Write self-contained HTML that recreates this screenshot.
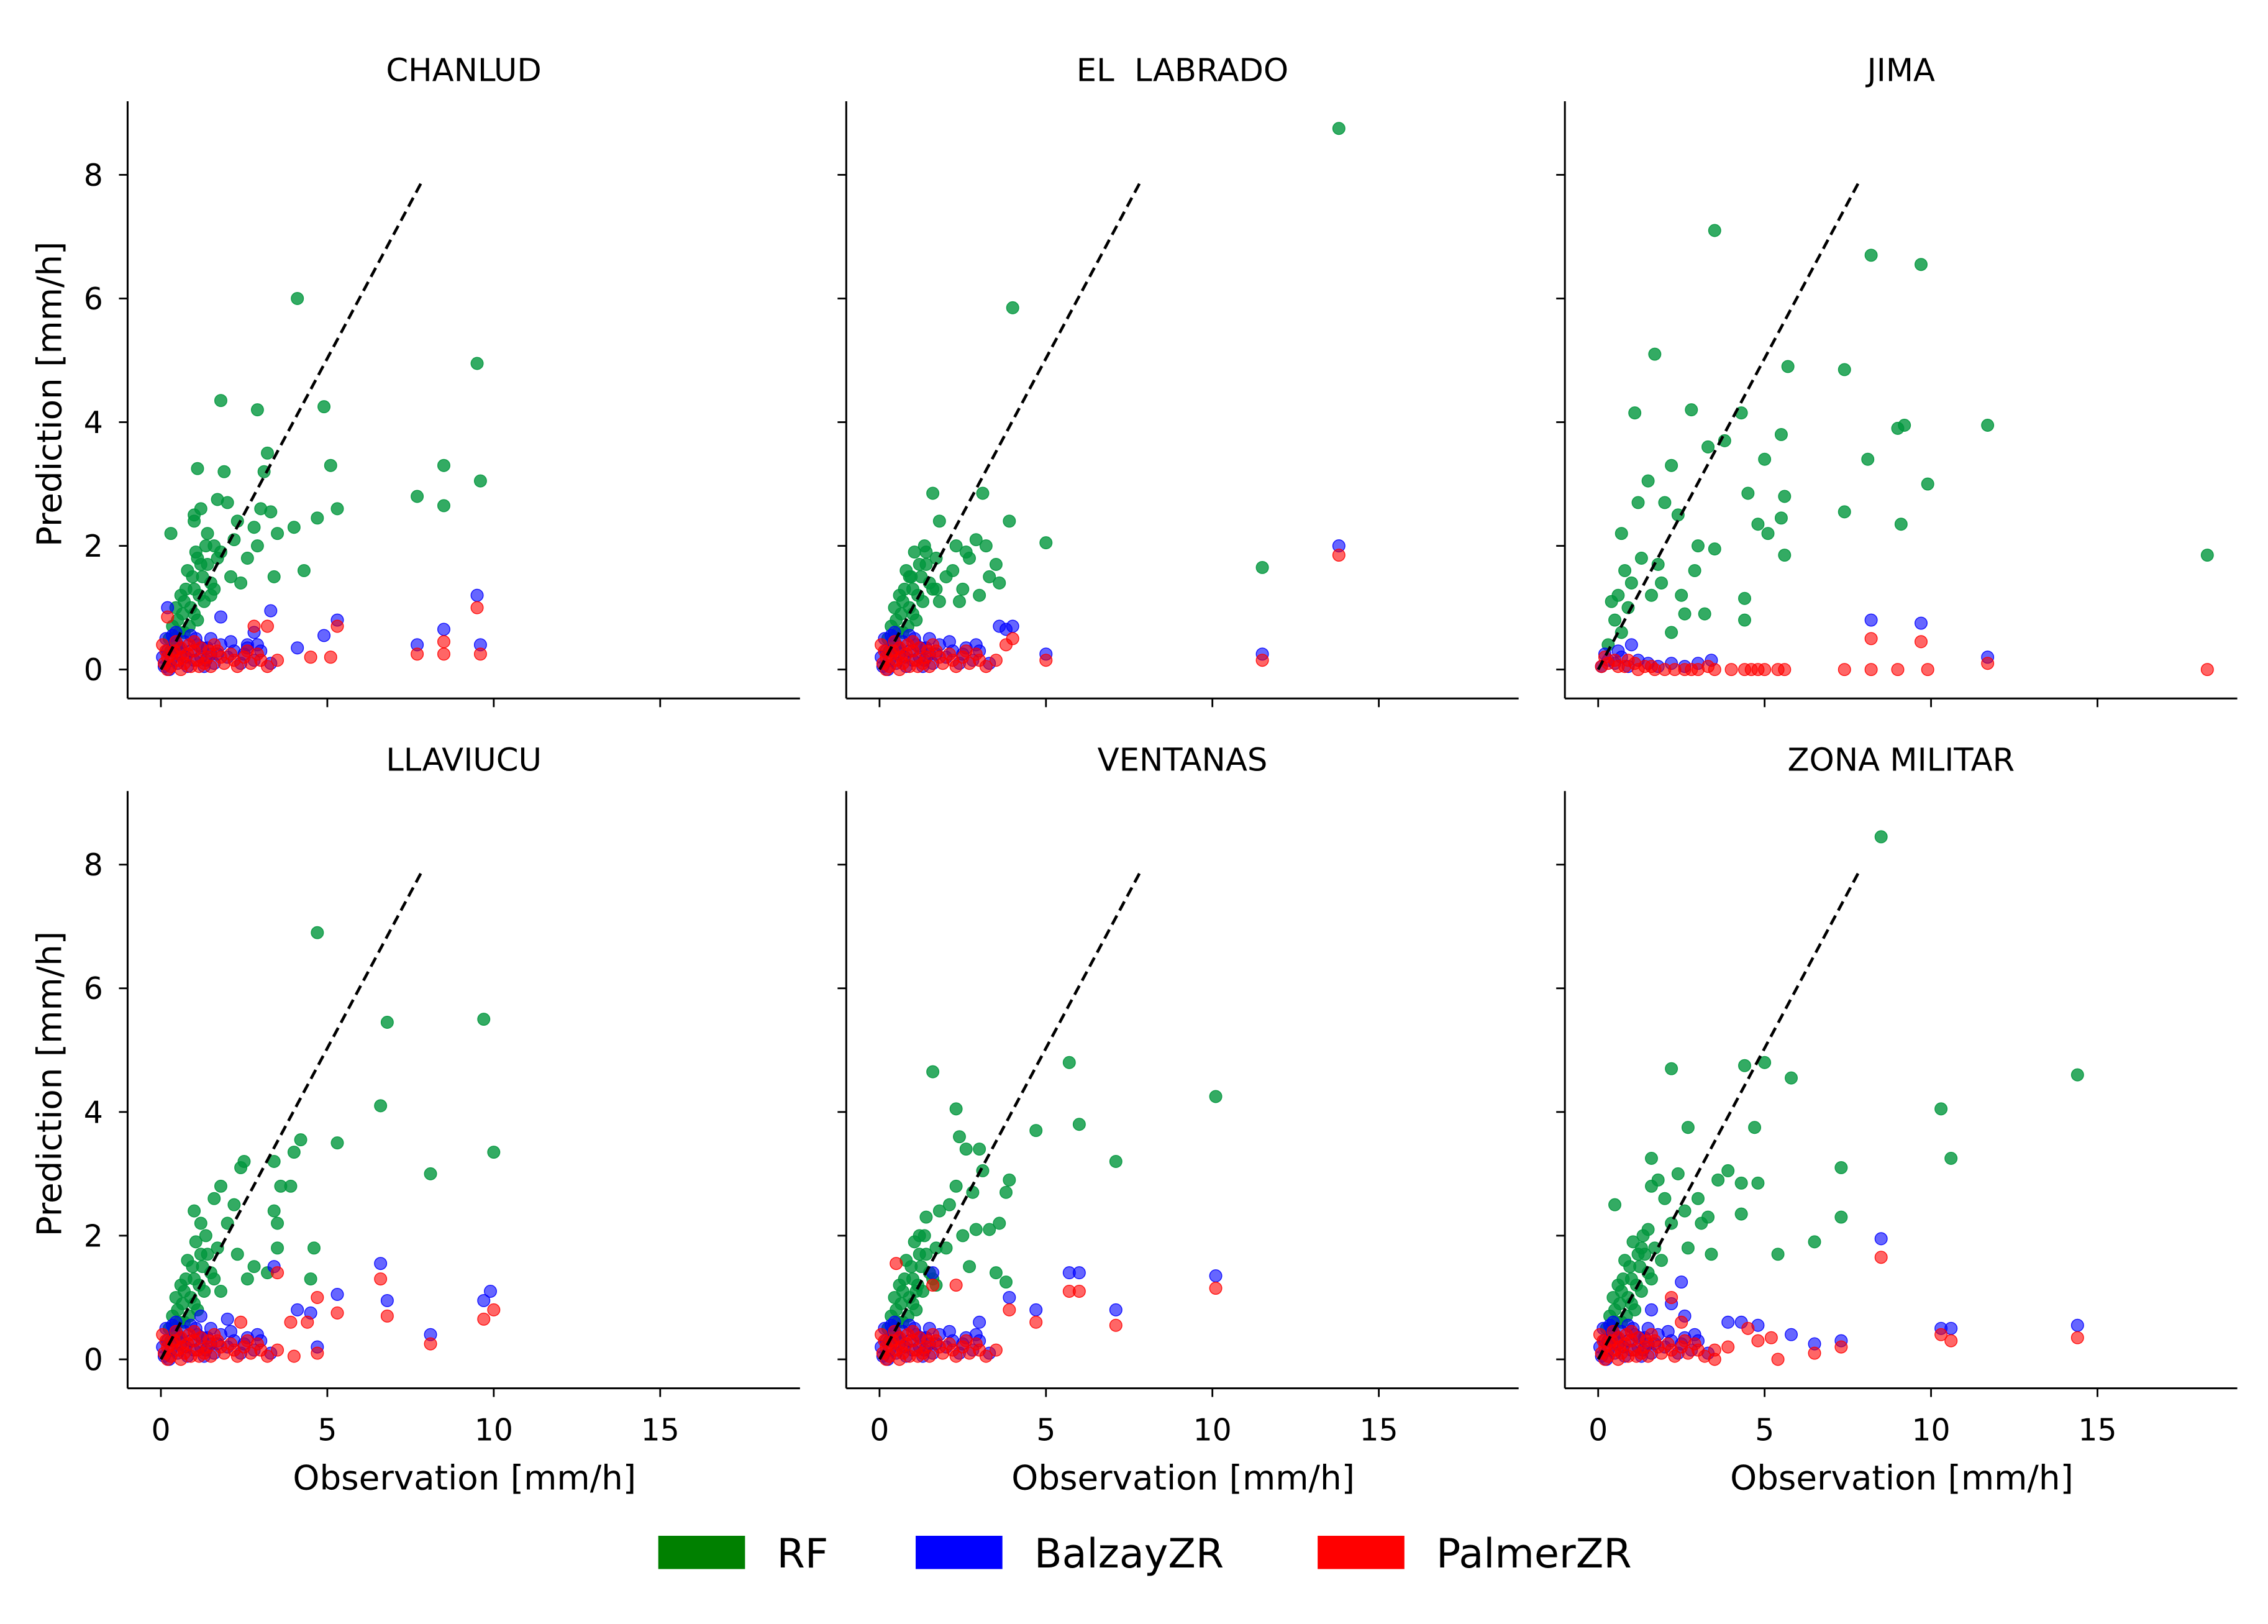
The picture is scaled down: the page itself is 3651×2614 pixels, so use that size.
<!DOCTYPE html>
<html><head><meta charset="utf-8"><style>
html,body{margin:0;padding:0;background:#fff;}
svg{display:block;font-family:"DejaVu Sans","Liberation Sans",sans-serif;}
</style></head><body>
<svg id="chart" width="3651" height="2614" viewBox="0 0 1568 1123" xmlns="http://www.w3.org/2000/svg"></svg>
<script>
const stationNames = ["CHANLUD","EL  LABRADO","JIMA","LLAVIUCU","VENTANAS","ZONA MILITAR"];
const xTicks = [0,5,10,15];
const yTicks = [0,2,4,6,8];
const seriesNames = ["RF","BalzayZR","PalmerZR"];
const seriesColors = ["#00963c","#0000ff","#ff0000"];
const clusterBalzay = [[0.1,0.05],[0.2,0.3],[0.3,0.15],[0.4,0.4],[0.5,0.1],[0.6,0.25],[0.7,0.45],[0.8,0.05],[0.9,0.3],[1.0,0.15],[1.1,0.4],[1.2,0.2],[1.3,0.05],[1.4,0.35],[1.5,0.25],[1.6,0.1],[1.8,0.4],[2.0,0.2],[2.2,0.3],[2.4,0.1],[2.6,0.35],[2.8,0.15],[3.0,0.3],[3.3,0.1],[0.15,0.5],[0.35,0.55],[0.9,0.55],[1.5,0.5],[0.05,0.2],[0.25,0.0],[0.55,0.35],[0.75,0.2],[1.05,0.5],[1.25,0.35],[1.7,0.25],[2.1,0.45],[2.5,0.25],[2.9,0.4],[0.45,0.6],[1.35,0.15]];
const clusterPalmer = [[0.1,0.1],[0.2,0.2],[0.3,0.05],[0.4,0.3],[0.5,0.15],[0.6,0.35],[0.7,0.1],[0.8,0.25],[0.9,0.05],[1.0,0.3],[1.1,0.15],[1.2,0.35],[1.3,0.1],[1.4,0.2],[1.5,0.05],[1.7,0.3],[1.9,0.1],[2.1,0.25],[2.3,0.05],[2.5,0.2],[2.7,0.1],[2.9,0.25],[3.2,0.05],[3.5,0.15],[0.05,0.4],[0.45,0.45],[1.0,0.45],[0.2,0.0],[0.6,0.0],[1.6,0.4],[0.35,0.25],[0.65,0.2],[0.85,0.4],[1.15,0.05],[1.45,0.3],[1.8,0.2],[2.2,0.15],[2.6,0.3],[3.0,0.15],[0.15,0.3]];
const clusterRF = [[0.3,0.3],[0.4,0.5],[0.5,0.8],[0.6,1.2],[0.7,0.6],[0.8,1.6],[0.9,1.0],[1.0,1.3],[1.1,0.8],[1.2,1.7],[1.3,1.1],[1.5,1.4],[1.7,1.8],[0.5,0.4],[0.35,0.7],[0.45,1.0],[0.65,0.9],[0.75,1.3],[0.85,0.7],[0.95,1.5],[1.05,1.9],[1.15,1.2],[1.25,1.5],[1.4,1.7],[1.6,1.3],[0.55,0.6],[0.25,0.5],[0.7,1.1],[1.0,0.9],[1.35,2.0]];

const chanludRF = [[4.1,6.0],[1.8,4.35],[2.9,4.2],[4.9,4.25],[9.5,4.95],[1.1,3.25],[1.9,3.2],[3.2,3.5],[3.1,3.2],[5.1,3.3],[8.5,3.3],[9.6,3.05],[7.7,2.8],[8.5,2.65],[5.3,2.6],[4.7,2.45],[3.3,2.55],[3.0,2.6],[4.0,2.3],[2.9,2.0],[3.4,1.5],[4.3,1.6],[1.0,2.5],[1.2,2.6],[1.7,2.75],[2.0,2.7],[0.3,2.2],[1.0,2.4],[1.4,2.2],[1.6,2.0],[2.2,2.1],[2.6,1.8],[1.1,1.8],[1.5,1.2],[2.1,1.5],[2.4,1.4],[1.8,1.9],[2.8,2.3],[3.5,2.2],[2.3,2.4]];
const chanludBalzay = [[3.3,0.95],[5.3,0.8],[4.9,0.55],[9.5,1.2],[8.5,0.65],[9.6,0.4],[7.7,0.4],[0.2,1.0],[1.8,0.85],[2.8,0.6],[4.1,0.35],[2.6,0.4]];
const chanludPalmer = [[9.5,1.0],[8.5,0.45],[7.7,0.25],[8.5,0.25],[9.6,0.25],[5.3,0.7],[5.1,0.2],[3.2,0.7],[2.8,0.7],[0.2,0.85],[4.5,0.2]];

const labradoRF = [[13.8,8.75],[4,5.85],[1.6,2.85],[3.1,2.85],[1.8,2.4],[3.9,2.4],[5,2.05],[11.5,1.65],[2.3,2.0],[2.6,1.9],[3.2,2.0],[2.9,2.1],[3.5,1.7],[3.3,1.5],[2.5,1.3],[2.0,1.5],[1.8,1.1],[2.2,1.6],[3.6,1.4],[2.7,1.8],[0.9,1.5],[1.7,1.3],[2.4,1.1],[3.0,1.2],[1.4,1.9]];
const labradoBalzay = [[13.8,2.0],[11.5,0.25],[5,0.25],[4,0.7],[3.6,0.7],[3.8,0.65]];
const labradoPalmer = [[13.8,1.85],[11.5,0.15],[5,0.15],[4,0.5],[3.8,0.4]];

const jimaRF = [[3.5,7.1],[8.2,6.7],[9.7,6.55],[1.7,5.1],[5.7,4.9],[7.4,4.85],[1.1,4.15],[2.8,4.2],[4.3,4.15],[9.0,3.9],[9.2,3.95],[11.7,3.95],[3.8,3.7],[3.3,3.6],[8.1,3.4],[5.0,3.4],[9.9,3.0],[1.5,3.05],[2.2,3.3],[5.5,3.8],[1.2,2.7],[0.7,2.2],[2.4,2.5],[2.0,2.7],[3.0,2.0],[3.5,1.95],[4.5,2.85],[4.8,2.35],[5.1,2.2],[5.5,2.45],[5.6,2.8],[5.6,1.85],[4.4,1.15],[4.4,0.8],[7.4,2.55],[9.1,2.35],[18.3,1.85],[2.5,1.2],[2.9,1.6],[2.2,0.6],[3.2,0.9],[2.6,0.9],[1.9,1.4],[0.3,0.4],[0.5,0.8],[0.6,1.2],[0.8,1.6],[0.9,1.0],[1.0,1.4],[1.3,1.8],[1.6,1.2],[1.8,1.7],[0.4,1.1],[0.7,0.6]];
const jimaBalzay = [[8.2,0.8],[9.7,0.75],[11.7,0.2],[1.0,0.4],[0.1,0.05],[0.3,0.15],[0.5,0.1],[0.7,0.2],[0.9,0.05],[1.2,0.15],[1.5,0.1],[1.8,0.05],[2.2,0.1],[2.6,0.05],[3.0,0.1],[3.4,0.15],[0.2,0.25],[0.6,0.3]];
const jimaPalmer = [[8.2,0.5],[9.7,0.45],[11.7,0.1],[7.4,0],[8.2,0],[9.0,0],[9.9,0],[18.3,0],[4.4,0],[4.8,0],[5.0,0],[5.4,0],[5.6,0],[3.5,0],[3.0,0],[2.6,0],[2.3,0],[2.0,0],[1.7,0],[1.4,0.05],[1.1,0.1],[0.8,0.05],[0.5,0.15],[0.3,0.1],[0.1,0.05],[0.2,0.2],[0.6,0.05],[0.9,0.15],[1.2,0],[1.6,0.05],[2.8,0],[3.3,0.05],[4.0,0],[4.6,0]];

const llaviucuRF = [[4.7,6.9],[6.8,5.45],[9.7,5.5],[6.6,4.1],[4.2,3.55],[5.3,3.5],[4.0,3.35],[3.4,3.2],[2.4,3.1],[2.5,3.2],[8.1,3.0],[10,3.35],[3.6,2.8],[3.9,2.8],[1.8,2.8],[3.4,2.4],[3.5,2.2],[4.6,1.8],[3.5,1.8],[2.8,1.5],[1.0,2.4],[1.2,2.2],[2.0,2.2],[2.2,2.5],[2.3,1.7],[2.6,1.3],[1.8,1.1],[4.5,1.3],[3.2,1.4],[1.6,2.6]];
const llaviucuBalzay = [[6.6,1.55],[6.8,0.95],[5.3,1.05],[9.9,1.1],[9.7,0.95],[8.1,0.4],[4.7,0.2],[4.5,0.75],[4.1,0.8],[3.4,1.5],[1.2,0.7],[2.0,0.65]];
const llaviucuPalmer = [[6.6,1.3],[4.7,1.0],[5.3,0.75],[6.8,0.7],[10,0.8],[9.7,0.65],[8.1,0.25],[4.7,0.1],[4.0,0.05],[3.9,0.6],[4.4,0.6],[3.5,1.4],[2.4,0.6]];

const ventanasRF = [[1.6,4.65],[5.7,4.8],[2.3,4.05],[10.1,4.25],[6.0,3.8],[4.7,3.7],[2.4,3.6],[3.0,3.4],[7.1,3.2],[2.6,3.4],[3.1,3.05],[3.9,2.9],[3.8,2.7],[2.3,2.8],[2.8,2.7],[2.1,2.5],[1.8,2.4],[1.4,2.3],[1.2,2.0],[3.6,2.2],[3.3,2.1],[2.9,2.1],[2.0,1.8],[2.5,2.0],[2.7,1.5],[3.5,1.4],[3.8,1.25],[1.7,1.2],[1.1,1.1]];
const ventanasBalzay = [[5.7,1.4],[6.0,1.4],[7.1,0.8],[10.1,1.35],[4.7,0.8],[3.9,1.0],[1.6,1.4],[3.0,0.6]];
const ventanasPalmer = [[5.7,1.1],[6.0,1.1],[10.1,1.15],[7.1,0.55],[4.7,0.6],[0.5,1.55],[2.3,1.2],[3.9,0.8],[1.6,1.2]];

const zonaRF = [[8.5,8.45],[4.4,4.75],[5.0,4.8],[2.2,4.7],[5.8,4.55],[14.4,4.6],[10.3,4.05],[2.7,3.75],[4.7,3.75],[1.6,3.25],[10.6,3.25],[2.4,3.0],[3.6,2.9],[7.3,3.1],[3.9,3.05],[1.8,2.9],[2.0,2.6],[4.3,2.85],[4.8,2.85],[3.0,2.6],[2.6,2.4],[3.1,2.2],[3.3,2.3],[7.3,2.3],[4.3,2.35],[1.6,2.8],[0.5,2.5],[1.5,2.1],[6.5,1.9],[5.4,1.7],[3.4,1.7],[2.7,1.8],[1.3,1.8],[1.9,1.6],[2.2,2.2]];
const zonaBalzay = [[8.5,1.95],[10.3,0.5],[10.6,0.5],[14.4,0.55],[7.3,0.3],[6.5,0.25],[5.8,0.4],[4.8,0.55],[4.3,0.6],[3.9,0.6],[2.5,1.25],[2.2,0.9],[1.6,0.8],[2.6,0.7],[0.3,0.3]];
const zonaPalmer = [[8.5,1.65],[10.3,0.4],[10.6,0.3],[14.4,0.35],[7.3,0.2],[6.5,0.1],[5.4,0],[4.8,0.3],[5.2,0.35],[4.5,0.5],[2.2,1.0],[2.5,0.6],[3.9,0.2],[3.5,0.0]];

const panelRF = [chanludRF,labradoRF,jimaRF,llaviucuRF,ventanasRF,zonaRF];
const panelBalzay = [chanludBalzay,labradoBalzay,jimaBalzay,llaviucuBalzay,ventanasBalzay,zonaBalzay];
const panelPalmer = [chanludPalmer,labradoPalmer,jimaPalmer,llaviucuPalmer,ventanasPalmer,zonaPalmer];
const useCluster = [true,true,false,true,true,true];

const NS = "http://www.w3.org/2000/svg";
const svg = document.getElementById("chart");
function mk(tag, attrs, parent){const e=document.createElementNS(NS,tag);for(const k in attrs)e.setAttribute(k,attrs[k]);(parent||svg).appendChild(e);return e;}
const lefts=[88,585,1082], tops=[70,547], W=465, H=413;
const XMIN=-1, XMAX=19.2, YMIN=-0.468, YMAX=9.19;

for(let p=0;p<6;p++){
  const col=p%3,row=Math.floor(p/3);
  const L=lefts[col],T=tops[row];
  const sx=v=>L+(v-XMIN)/(XMAX-XMIN)*W;
  const sy=v=>T+H-(v-YMIN)/(YMAX-YMIN)*H;
  const g=mk("g",{});
  
  
  const t=mk("text",{x:L+W/2,y:T-14,"text-anchor":"middle","font-size":"22"},g);
  
  
  t.textContent=stationNames[p].replace(/  /g,"\u00a0\u00a0");
  const sp1=mk("line",{x1:L,y1:T,x2:L,y2:T+H,stroke:"#000","stroke-width":1.3},g);
  
  
  const sp2=mk("line",{x1:L,y1:T+H,x2:L+W,y2:T+H,stroke:"#000","stroke-width":1.3},g);
  
  
  xTicks.forEach(v=>{
    const tk=mk("line",{x1:sx(v),y1:T+H,x2:sx(v),y2:T+H+6,stroke:"#000","stroke-width":1.2},g);
    
    
    if(row===1){const tl=mk("text",{x:sx(v),y:T+H+36,"text-anchor":"middle","font-size":"21"},g);
      
      
      tl.textContent=v;}
  });
  yTicks.forEach(v=>{
    const tk=mk("line",{x1:L-6,y1:sy(v),x2:L,y2:sy(v),stroke:"#000","stroke-width":1.2},g);
    
    
    if(col===0){const tl=mk("text",{x:L-17,y:sy(v)+7.5,"text-anchor":"end","font-size":"21"},g);
      
      
      tl.textContent=v;}
  });
  if(row===1){const xl=mk("text",{x:L+233,y:1030,"text-anchor":"middle","font-size":"23.5"},g);
    
    
    xl.textContent="Observation [mm/h]";}
  if(col===0){const cy=T+H/2-4;const yl=mk("text",{x:42,y:cy,"text-anchor":"middle","font-size":"23.5",transform:`rotate(-90 42 ${cy})`},g);
    
    
    yl.textContent="Prediction [mm/h]";}
  const sets=[panelRF[p].concat(useCluster[p]?clusterRF:[]), panelBalzay[p].concat(useCluster[p]?clusterBalzay:[]), panelPalmer[p].concat(useCluster[p]?clusterPalmer:[])];
  const ops=[0.8,0.6,0.6];
  sets.forEach((arr,si)=>{
    arr.forEach(d=>{
      const c=mk("circle",{cx:sx(d[0]),cy:sy(d[1]),r:4.2,fill:seriesColors[si],"fill-opacity":ops[si],stroke:seriesColors[si],"stroke-opacity":0.9,"stroke-width":0.6},g);
      
      
    });
  });
  const dl=mk("line",{x1:sx(0),y1:sy(0),x2:sx(7.85),y2:sy(7.9),stroke:"#000","stroke-width":2,"stroke-dasharray":"7,4"},g);
  
  
}
const legX=[455,633,911];
seriesNames.forEach((n,i)=>{
  const r=mk("rect",{x:legX[i],y:1062,width:60,height:23,fill:seriesColors[i]==="#00963c"?"#008000":seriesColors[i]});
  
  
  const t=mk("text",{x:legX[i]+82,y:1084,"font-size":"28"});
  
  
  t.textContent=n;
});
</script>
</body></html>
